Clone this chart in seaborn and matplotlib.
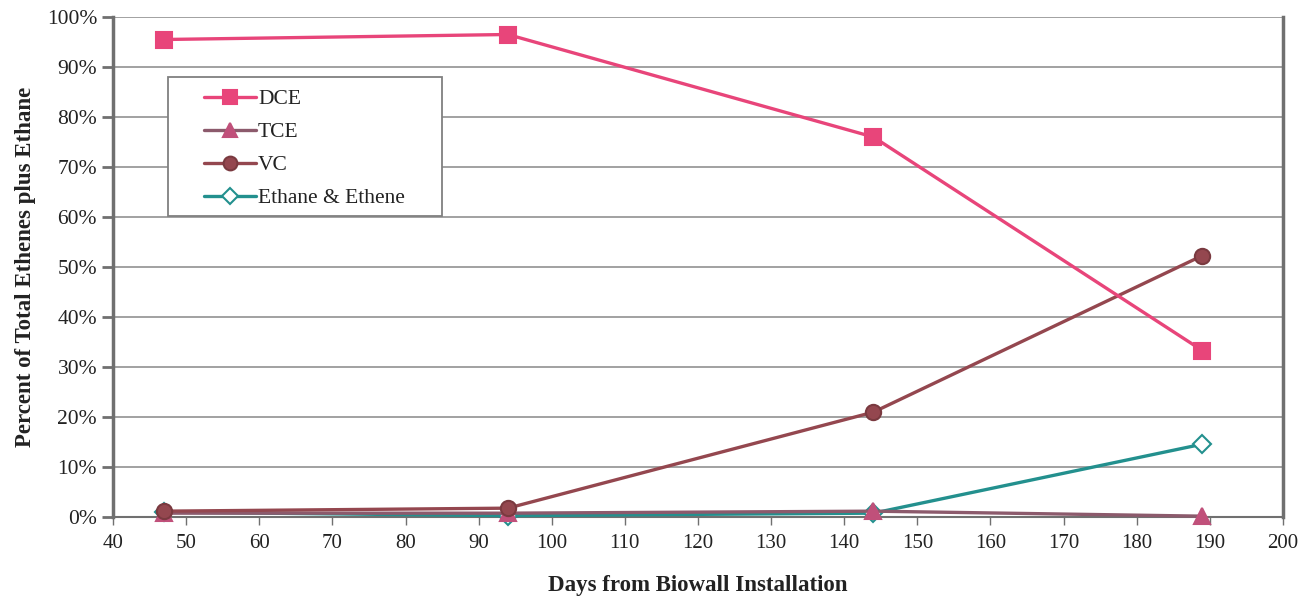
import matplotlib
matplotlib.use("Agg")
import matplotlib.pyplot as plt
import seaborn as sns
import pandas as pd
from matplotlib.ticker import FuncFormatter, MultipleLocator
from matplotlib.patches import Rectangle

days = [47, 94, 144, 189]
dce = [95.5, 96.5, 76.0, 33.3]
tce = [0.8, 0.8, 1.2, 0.2]
vc = [1.2, 1.8, 21.0, 52.3]
ethene = [1.0, 0.3, 0.8, 14.6]
series_names = ["DCE", "TCE", "VC", "Ethane & Ethene"]

sns.set_theme(style="white")
plt.rcParams['font.family'] = ['Liberation Serif', 'DejaVu Serif']

fig = plt.figure(figsize=(13.1, 6.07), dpi=100)
ax = fig.add_axes([0.0863, 0.148, 0.893, 0.824])

styles = {
    "DCE": dict(color="#E8457A", marker="s", ms=11, mfc="#E8457A", mec="#E8457A"),
    "TCE": dict(color="#8C5A6C", marker="^", ms=11, mfc="#C0507A", mec="#C0507A"),
    "VC": dict(color="#94474F", marker="o", ms=11, mfc="#94474F", mec="#7A3A40"),
    "Ethane & Ethene": dict(color="#23908E", marker="D", ms=9, mfc="white", mec="#23908E"),
}
values = {"DCE": dce, "TCE": tce, "VC": vc, "Ethane & Ethene": ethene}

for name in ["Ethane & Ethene", "TCE", "VC", "DCE"]:
    df = pd.DataFrame({"day": days, "pct": values[name]})
    st = styles[name]
    sns.lineplot(data=df, x="day", y="pct", ax=ax, color=st["color"], linewidth=2.4,
                 marker=st["marker"], markersize=st["ms"], markerfacecolor=st["mfc"],
                 markeredgecolor=st["mec"], markeredgewidth=1.5, label=name, zorder=3,
                 clip_on=False)

ax.set_xlim(40, 200)
ax.set_ylim(0, 100)
ax.xaxis.set_major_locator(MultipleLocator(10))
ax.yaxis.set_major_locator(MultipleLocator(10))
ax.yaxis.set_major_formatter(FuncFormatter(lambda v, p: f"{int(round(v))}%"))
ax.grid(axis="y", color="#9a9a9a", linewidth=1.3)
ax.set_axisbelow(True)

for s in ["left", "right", "bottom"]:
    ax.spines[s].set_visible(True)
    ax.spines[s].set_color("#707070")
    ax.spines[s].set_linewidth(2.5)
ax.spines["top"].set_visible(False)
ax.spines["bottom"].set_linewidth(1.5)

ax.tick_params(axis="both", which="major", direction="out", length=6, width=2,
               colors="#707070", labelcolor="#222222")
ax.tick_params(axis="y", left=True, length=8, labelsize=15.5)
ax.tick_params(axis="x", bottom=True, width=1, pad=6, labelsize=15)

ax.set_xlabel("Days from Biowall Installation", fontsize=16.5, fontweight="bold",
              color="#222222", labelpad=16)
ax.set_ylabel("Percent of Total Ethenes plus Ethane", fontsize=16.5, fontweight="bold",
              color="#222222", labelpad=8)

# legend frame
ax.add_patch(Rectangle((0.047, 0.602), 0.234, 0.278, transform=ax.transAxes,
                       facecolor="white", edgecolor="#808080", linewidth=1.3, zorder=4))

handles, labels = ax.get_legend_handles_labels()
order = [labels.index(n) for n in series_names]
leg = ax.legend([handles[i] for i in order], [labels[i] for i in order],
                loc="upper left", bbox_to_anchor=(0.078, 0.856), fontsize=15.5,
                frameon=False, handlelength=2.4, borderpad=0, labelspacing=0.6,
                handletextpad=0.1, borderaxespad=0, markerscale=0.9)
leg.set_zorder(5)
for t in leg.get_texts():
    t.set_color("#222222")

fig.savefig("out.png", dpi=100)
